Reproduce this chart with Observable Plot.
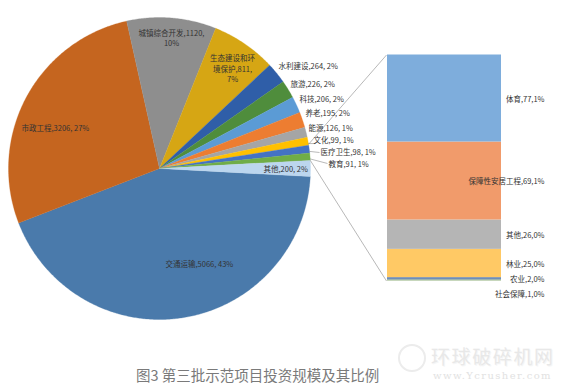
<!DOCTYPE html>
<html>
<head>
<meta charset="utf-8">
<script src="https://cdn.jsdelivr.net/npm/d3@7"></script>
<script src="https://cdn.jsdelivr.net/npm/@observablehq/plot@0.6"></script>
<style>
  html, body { margin: 0; padding: 0; background: #fff; }
  #wrap { position: relative; width: 569px; height: 390px; overflow: hidden; background: #fff; }
  #chart svg { display: block; }
  #caption { position: absolute; left: 136px; top: 364px; font: 14.5px "Noto Sans CJK SC", sans-serif; color: #7a7a7a; white-space: nowrap; }
  #wm1 { position: absolute; left: 431px; top: 342px; font: 19px "Noto Sans CJK SC", sans-serif; letter-spacing: 1.6px; color: #e8e8e8; text-shadow: 1px 1px 0 #f6f6f6; white-space: nowrap; }
  #wm2 { position: absolute; left: 433px; top: 370px; font: 10px "DejaVu Serif", serif; letter-spacing: 1.4px; color: #e2e2e2; white-space: nowrap; }
  #wmlogo { position: absolute; left: 398px; top: 344px; width: 24px; height: 24px; border: 2px solid #ececec; border-radius: 50%; }
</style>
</head>
<body>
<div id="wrap">
  <div id="chart"></div>
  <div id="wmlogo"></div>
  <div id="wm1">环球破碎机网</div>
  <div id="wm2">www.Ycrusher.com</div>
  <div id="caption">图3 第三批示范项目投资规模及其比例</div>
</div>
<script>
// ---- data ----
const pieNames = ["交通运输", "市政工程", "城镇综合开发", "生态建设和环境保护", "水利建设", "旅游", "科技", "养老", "能源", "文化", "医疗卫生", "教育", "其他"];
const pieValues = [5066, 3206, 1120, 811, 264, 226, 206, 195, 126, 99, 98, 91, 200];
const pieColors = ["#4a7aab", "#c5651f", "#8e8e8e", "#d6a614", "#2f5ea8", "#4f8d3c", "#5b9bd5", "#ed7d31", "#a5a5a5", "#ffc000", "#4472c4", "#70ad47", "#bcd6ee"];
const barNames = ["体育", "保障性安居工程", "其他", "林业", "农业", "社会保障"];
const barValues = [77, 69, 26, 25, 2, 1];
const barColors = ["#7eaddc", "#f19b6b", "#b5b5b5", "#ffc965", "#6f8db8", "#8fb07a"];

// ---- layout (pixels) ----
const W = 569, H = 345;
const K = 1.13;            // pixels per unit of the bar's value
const BAR_BOTTOM = 280.5;  // pixel row of value 0
const px2x = px => px / K;
const py2y = py => (BAR_BOTTOM - py) / K;
const CX = 159, CY = 168, R = 151;
const BAR_X1 = 387, BAR_X2 = 501, BAR_LABEL_X = 544;

const pieTotal = d3.sum(pieValues);
const otherIdx = pieNames.indexOf("其他");
const degPer = 360 / pieTotal;
const startDeg = pieValues[otherIdx] * degPer / 2; // "其他" centred at 3 o'clock

// slices (angles clockwise from east in screen space)
const slices = [];
let acc = startDeg;
pieNames.forEach((name, i) => {
  const span = pieValues[i] * degPer;
  slices.push({name, value: pieValues[i], color: pieColors[i], a0: acc, a1: acc + span, pct: Math.round(pieValues[i] / pieTotal * 100)});
  acc += span;
});
const polar = (deg, r) => {
  const t = deg * Math.PI / 180;
  return [CX + r * Math.cos(t), CY + r * Math.sin(t)];
};
const polyPts = [];
slices.forEach(s => {
  const n = Math.max(2, Math.ceil(s.a1 - s.a0) * 2 + 1);
  polyPts.push({name: s.name, color: s.color, x: px2x(CX), y: py2y(CY)});
  for (let j = 0; j <= n; j++) {
    const [px, py] = polar(s.a0 + (s.a1 - s.a0) * j / n, R);
    polyPts.push({name: s.name, color: s.color, x: px2x(px), y: py2y(py)});
  }
  polyPts.push({name: s.name, color: s.color, x: px2x(CX), y: py2y(CY)});
});

// pie labels
const pieLabelPos = {
  "交通运输": [165, 263, "start"],
  "市政工程": [21, 127, "start"],
  "城镇综合开发": [171, 37, "middle"],
  "生态建设和环境保护": [232, 68, "middle"],
  "水利建设": [278, 65, "start"],
  "旅游": [290, 83, "start"],
  "科技": [299, 98, "start"],
  "养老": [305, 112, "start"],
  "能源": [308, 127, "start"],
  "文化": [313, 139, "start"],
  "医疗卫生": [320, 151, "start"],
  "教育": [328, 163, "start"],
  "其他": [263, 168, "start"]
};
const wrapAt = {"生态建设和环境保护": 6};
const pieLabels = slices.map(s => {
  const [px, py, anchor] = pieLabelPos[s.name];
  let text;
  if (s.name === "城镇综合开发") text = `${s.name},${s.value},\n${s.pct}%`;
  else if (wrapAt[s.name]) text = `${s.name.slice(0, wrapAt[s.name])}\n${s.name.slice(wrapAt[s.name])},${s.value},\n${s.pct}%`;
  else text = `${s.name},${s.value}, ${s.pct}%`;
  return {x: px2x(px), y: py2y(py), text, anchor};
});
const leaderNames = ["文化", "医疗卫生", "教育"];
const leaderOffsets = {"文化": [3, 3], "医疗卫生": [0, 0], "教育": [0, -1]};
const leaders = leaderNames.map(n => {
  const s = slices.find(d => d.name === n);
  const [lx, ly] = pieLabelPos[n];
  const [ex, ey] = polar((s.a0 + s.a1) / 2, R - 2);
  const [ox, oy] = leaderOffsets[n];
  return {x1: px2x(lx + ox - 1), y1: py2y(ly + oy + 1), x2: px2x(ex + 2), y2: py2y(ey + 2)};
});

// bar (stacked from bottom: last item at the bottom)
const barRows = [];
let base = 0;
for (let i = barNames.length - 1; i >= 0; i--) {
  barRows.push({name: barNames[i], value: barValues[i], color: barColors[i], y1: base, y2: base + barValues[i],
    pct: Math.round(barValues[i] / pieTotal * 100)});
  base += barValues[i];
}
const barTotal = base;
const barLabelShift = {"社会保障": 13}; // pixels downward

// connectors from the "其他" slice to the bar
const sOther = slices[otherIdx];
const [ux, uy] = polar(sOther.a0 - (sOther.a1 - sOther.a0), R);
const [lx, ly] = polar(sOther.a0, R);
const connectors = [
  {x1: px2x(ux), y1: py2y(uy), x2: px2x(BAR_X1 - 1), y2: barTotal},
  {x1: px2x(lx), y1: py2y(ly), x2: px2x(BAR_X1 - 1), y2: 0}
];

const fontFam = "Noto Sans CJK SC, sans-serif";
const textOpts = {fontSize: 7.5, fill: "#333", lineHeight: 1.38};
const plot = Plot.plot({
  width: W, height: H,
  marginTop: 0, marginRight: 0, marginBottom: 0, marginLeft: 0,
  x: {domain: [0, W / K], axis: null},
  y: {domain: [py2y(H), py2y(0)], axis: null},
  color: {type: "identity"},
  style: {fontFamily: fontFam, background: "#fff"},
  marks: [
    Plot.line(polyPts, {x: "x", y: "y", z: "name", fill: "color", stroke: "color", strokeWidth: 0.3, curve: "linear"}),
    Plot.rect(barRows, {x1: () => px2x(BAR_X1), x2: () => px2x(BAR_X2), y1: "y1", y2: "y2", fill: "color"}),
    Plot.link(connectors, {x1: "x1", y1: "y1", x2: "x2", y2: "y2", stroke: "#9a9a9a", strokeWidth: 0.7}),
    Plot.link(leaders, {x1: "x1", y1: "y1", x2: "x2", y2: "y2", stroke: "#8a8a8a", strokeWidth: 0.6}),
    Plot.text(pieLabels.filter(d => d.anchor === "start"), {x: "x", y: "y", text: "text", textAnchor: "start", ...textOpts}),
    Plot.text(pieLabels.filter(d => d.anchor === "middle"), {x: "x", y: "y", text: "text", textAnchor: "middle", ...textOpts}),
    Plot.text(barRows, {x: () => px2x(BAR_LABEL_X), y: d => (d.y1 + d.y2) / 2 - (barLabelShift[d.name] || 0) / K,
      text: d => `${d.name},${d.value},${d.pct}%`, textAnchor: "end", ...textOpts})
  ]
});
document.getElementById("chart").appendChild(plot);
</script>
</body>
</html>
